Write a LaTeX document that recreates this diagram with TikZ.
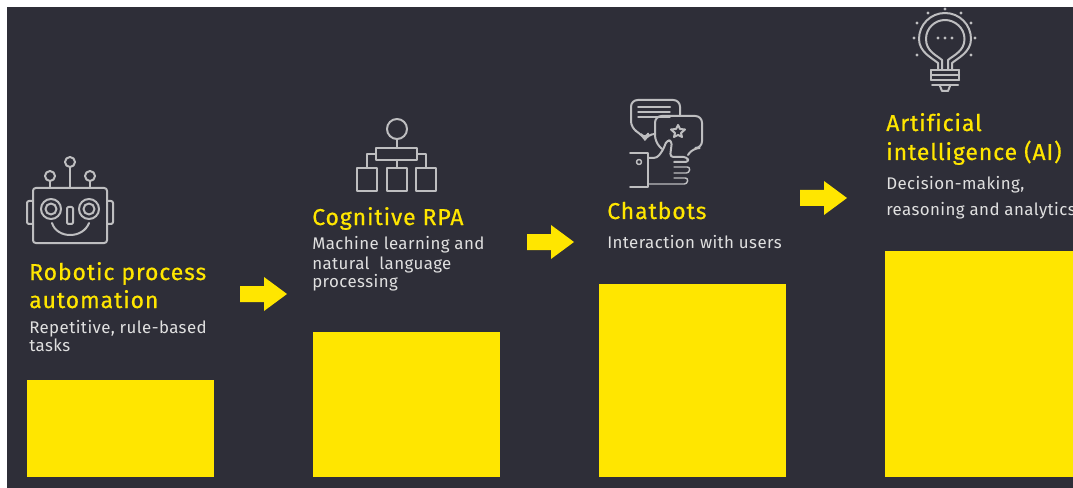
\documentclass[tikz,border=0pt]{standalone}
\usepackage{fontspec}
\setmainfont{Fira Sans}
\definecolor{bgdark}{HTML}{2E2E38}
\definecolor{eyyellow}{HTML}{FFE600}
\definecolor{icon}{HTML}{BEBEC0}
\definecolor{body}{HTML}{E0E0E0}
\newfontfamily\titlefont[LetterSpace=4,FakeBold=0.6,Ligatures=NoCommon]{Fira Sans}
\newfontfamily\descfont[LetterSpace=2.5,Ligatures=NoCommon]{Fira Sans}
\tikzset{
  title/.style={anchor=base west,inner sep=0pt,text=eyyellow,font=\titlefont\fontsize{17.2}{17.2}\selectfont},
  desc/.style={anchor=base west,inner sep=0pt,text=body,font=\descfont\fontsize{12.65}{12.65}\selectfont},
  bar/.style={fill=eyyellow,draw=none},
  ic/.style={draw=icon,line width=1.5pt,line join=round,line cap=round},
  thin ic/.style={draw=icon,line width=1.1pt,line join=round,line cap=round},
  dot/.style={fill=icon,draw=none},
}
\begin{document}
\begin{tikzpicture}[x=0.75pt,y=-0.75pt]
\useasboundingbox (0,0) rectangle (1073,488);
\fill[white] (0,0) rectangle (1073,488);
\fill[bgdark] (7,7) rectangle (1073,488);
% yellow bars
\fill[bar] (27,380) rectangle (214,477);
\fill[bar] (313,332) rectangle (500,477);
\fill[bar] (599,284) rectangle (786,477);
\fill[bar] (885,251) rectangle (1073,477);
% arrows
\fill[bar] (240,286) -- (264,286) -- (264,277) -- (287,294) -- (264,311) -- (264,302) -- (240,302) -- cycle;
\fill[bar] (527,234) -- (551,234) -- (551,225) -- (574,242) -- (551,259) -- (551,250) -- (527,250) -- cycle;
\fill[bar] (800,190) -- (824,190) -- (824,181) -- (847,198) -- (824,215) -- (824,206) -- (800,206) -- cycle;
% text
\node[title] (t1a) at (29,280) {Robotic process};
\node[title] (t1b) at (29,308) {automation};
\node[desc] (d1a) at (29,333) {Repetitive, rule-based};
\node[desc] (d1b) at (29,351) {tasks};
\node[title] (t2) at (312,225) {Cognitive RPA};
\node[desc] (d2a) at (312,249.5) {Machine learning and};
\node[desc] (d2b) at (312,269) {natural\ \ language};
\node[desc] (d2c) at (312,287) {processing};
\node[title] (t3) at (607,219) {Chatbots};
\node[desc] (d3) at (607,248) {Interaction with users};
\node[title] (t4a) at (886,131) {Artificial};
\node[title] (t4b) at (886,160) {intelligence (AI)};
\node[desc] (d4a) at (886,190) {Decision-making,};
\begin{scope}
\clip (7,7) rectangle (1073,488);
\node[desc] (d4b) at (886,215.5) {reasoning and analytics};
\end{scope}
% robot
\draw[ic,rounded corners=2pt] (33,188) rectangle (107,243);
\draw[ic,rounded corners=1.5pt] (33,201) -- (27,201) -- (27,224) -- (33,224);
\draw[ic,rounded corners=1.5pt] (107,201) -- (113,201) -- (113,224) -- (107,224);
\draw[ic] (51,209) circle[radius=10];
\draw[ic] (51,209) circle[radius=5.5];
\draw[ic] (89,209) circle[radius=10];
\draw[ic] (89,209) circle[radius=5.5];
\draw[ic,rounded corners=1pt] (67,207) rectangle (73,224);
\draw[ic] (52,223) .. controls (57,239) and (83,239) .. (89,223);
\draw[ic] (70,162) circle[radius=5];
\draw[ic] (70,167) -- (70,188);
\draw[ic] (50,176) circle[radius=5];
\draw[ic] (50,181) -- (50,188);
\draw[ic] (90,176) circle[radius=5];
\draw[ic] (90,181) -- (90,188);
% org chart
\draw[ic] (397,129) circle[radius=10];
\draw[ic] (397,139) -- (397,148);
\draw[ic] (376,148) rectangle (417,160);
\draw[ic] (357,168) rectangle (377,191);
\draw[ic] (387,168) rectangle (407,191);
\draw[ic] (416,168) rectangle (436,191);
\draw[ic] (397,160) -- (397,168);
\draw[ic] (376,154) -- (367,154) -- (367,168);
\draw[ic] (417,154) -- (426,154) -- (426,168);
% chat bubbles
\draw[ic,rounded corners=5pt] (655,134) -- (648,134) -- (645,139.5) -- (641,134) -- (631,128) -- (631,100) -- (680,100) -- (680,116);
\draw[ic] (638,107) -- (670,107);
\draw[thin ic] (638,112) -- (670,112);
\draw[thin ic] (638,117) -- (670,117);
\draw[ic,rounded corners=5pt] (662,149) -- (655,142) -- (655,116) -- (702,116) -- (702,148) -- (693,148) -- (688,155);
\draw[ic] (678,125) -- (680,129) -- (685,129.5) -- (681,133) -- (682,137) -- (678,135) -- (674,137) -- (675,133) -- (671,129.5) -- (676,129) -- cycle;
% hand
\draw[ic] (630,153) -- (648,153) -- (648,187) -- (630,187);
\draw[thin ic] (639,162) circle[radius=2.5];
\draw[ic,rounded corners=2.5pt] (648,158) -- (657,158) -- (663,150) -- (667,140) -- (672,141) -- (670,157) -- (687,157) -- (689,162) -- (674,162);
\draw[thin ic,rounded corners=2pt] (674,167) -- (690,167) -- (689,173) -- (674,173);
\draw[thin ic,rounded corners=2pt] (674,178) -- (688,178) -- (687,184) -- (648,184);
% bulb
\draw[ic] (938,69) -- (938,63) .. controls (932,58) and (919,52) .. (919,39) .. controls (919,24.6) and (930.6,13) .. (945,13) .. controls (959.4,13) and (971,24.6) .. (971,39) .. controls (971,52) and (958,58) .. (952,63) -- (952,69);
\draw[ic] (942,69) -- (942,60) .. controls (936,55) and (926,51) .. (926,39) .. controls (926,28) and (935,20) .. (945,20) .. controls (955,20) and (964.5,28) .. (964.5,39) .. controls (964.5,51) and (954,55) .. (948,60) -- (948,69);
\draw[ic] (931,70) -- (959,70);
\draw[ic] (931,75) -- (959,75);
\draw[ic] (931,80) -- (959,80);
\draw[ic] (932,85) -- (958,85);
\draw[ic] (931,70) -- (931,80);
\draw[ic] (959,70) -- (959,80);
\draw[ic] (940,86) -- (942,91) -- (948,91) -- (950,86);
\foreach \p in {(914,38),(975,38),(917,23),(971,23),(917,55),(971,55),(928,13),(961,13),(945,9),(938,38),(945,38),(952,38)}
  \fill[dot] \p circle[radius=1.7];
\end{tikzpicture}
\end{document}
